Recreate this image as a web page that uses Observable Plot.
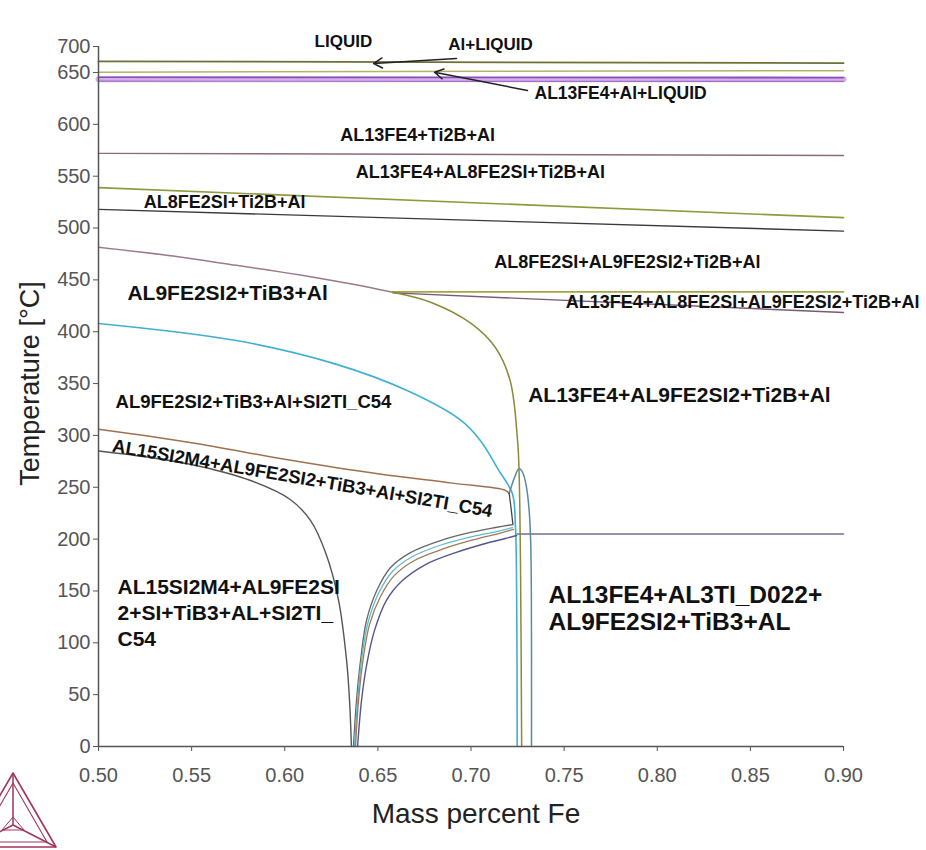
<!DOCTYPE html>
<html>
<head>
<meta charset="utf-8">
<script src="https://cdn.jsdelivr.net/npm/d3@7"></script>
<script src="https://cdn.jsdelivr.net/npm/@observablehq/plot@0.6"></script>
<style>
  body { margin: 0; background: #fff; }
  #wrap { position: relative; width: 926px; height: 850px; background: #fff; }
  #logo { position: absolute; left: 0; top: 770px; }
</style>
</head>
<body>
<div id="wrap">
  <div id="chart"></div>
  <svg id="logo" width="62" height="80" viewBox="0 0 62 80">
    <g fill="none" stroke="#a3355c" stroke-linejoin="round">
      <polygon points="13,3 56,77 -30,77" stroke-width="1.6"/>
      <polygon points="13,13 47,72 -21,72" stroke-width="1.1"/>
      <polyline points="13,3 13,55 56,77" stroke-width="1.5"/>
      <line x1="13" y1="55" x2="-30" y2="77" stroke-width="1.5"/>
      <polygon points="13,47 24,60 2,60" stroke-width="1"/>
    </g>
  </svg>
</div>
<script>
// ---------- axis ticks ----------
const xTicks = [0.50, 0.55, 0.60, 0.65, 0.70, 0.75, 0.80, 0.85, 0.90];
const yTicks = [0, 50, 100, 150, 200, 250, 300, 350, 400, 450, 500, 550, 600, 650, 700];

// ---------- phase boundaries: [mass percent Fe, temperature °C] ----------
const liquidus        = [[0.50, 671.5], [0.90, 668.0]];
const alLiquid        = [[0.50, 650.6], [0.90, 653.5]];
const al13fe4Band     = [[0.50, 643.6], [0.90, 643.4]];
const al13fe4Upper    = [[0.50, 645.4], [0.90, 645.0]];
const al13fe4Lower    = [[0.50, 641.6], [0.90, 641.4]];
const ti2bLine        = [[0.50, 572.0], [0.90, 570.0]];
const al8fe2siUpper   = [[0.50, 539.0], [0.90, 510.0]];
const al8fe2siLower   = [[0.50, 518.0], [0.90, 497.0]];
const al9fe2si2Start  = [[0.50, 481.5], [0.54, 473], [0.574, 464], [0.60, 457], [0.627, 449], [0.645, 443], [0.658, 438]];
const al9Plateau      = [[0.658, 438.5], [0.90, 438.5]];
const al13fe4Slope    = [[0.658, 437.5], [0.90, 418.5]];
const al13fe4Solvus   = [[0.658, 438], [0.679, 428], [0.700, 408], [0.713, 385], [0.721, 353], [0.725, 295], [0.7258, 266], [0.7266, 170], [0.7272, 0]];
const si2tiSolvus     = [[0.50, 408], [0.574, 391.5], [0.627, 369], [0.666, 343], [0.695, 314], [0.705, 295], [0.715, 266], [0.7222, 244], [0.7238, 215], [0.7245, 150], [0.7248, 0]];
const tib3Line        = [[0.50, 306], [0.55, 293], [0.60, 277], [0.65, 263], [0.69, 254], [0.7185, 247], [0.7205, 244]];
const al3tiLambda     = [[0.7205, 244], [0.7235, 260], [0.7258, 268], [0.7278, 264], [0.7298, 250], [0.7312, 228], [0.7320, 200], [0.7324, 150], [0.7325, 0]];
const junctionLine    = [[0.7205, 244], [0.7215, 230], [0.7225, 214]];
const al3tiPlateau    = [[0.7248, 205], [0.90, 205]];
const al15Solvus      = [[0.50, 285], [0.5279, 278.7], [0.5548, 270], [0.5816, 256.5], [0.6031, 238], [0.6138, 218], [0.6219, 187], [0.6289, 141], [0.6332, 83], [0.6348, 44], [0.6358, 0]];
const vRightGray      = [[0.6369, 0], [0.6385, 44], [0.6407, 83], [0.6439, 121.5], [0.6493, 150], [0.6568, 172.6], [0.6675, 187], [0.6836, 198.6], [0.6997, 206.4], [0.7132, 211.2], [0.7223, 214]];
const vRightCyan      = [[0.6374, 0], [0.6391, 44], [0.6412, 83], [0.6447, 119.6], [0.6503, 147.5], [0.6578, 168.8], [0.6686, 183.2], [0.6847, 194.8], [0.7008, 202.5], [0.7137, 207.3], [0.7223, 211]];
const vRightBrown     = [[0.6380, 0], [0.6396, 44], [0.6420, 83], [0.6455, 117.6], [0.6514, 144.6], [0.6589, 165], [0.6696, 179.4], [0.6858, 191], [0.7019, 199.6], [0.7148, 205.4], [0.7228, 209.3]];
const vRightBlue      = [[0.6391, 0], [0.6412, 44], [0.6439, 78], [0.6482, 112], [0.6546, 141], [0.6632, 160], [0.6756, 175.5], [0.6917, 187], [0.7078, 195.8], [0.7185, 200.6], [0.7245, 203.5]];

// ---------- region labels ----------
const labelText = [
  "LIQUID", "Al+LIQUID", "AL13FE4+Al+LIQUID", "AL13FE4+Ti2B+Al", "AL13FE4+AL8FE2SI+Ti2B+Al",
  "AL8FE2SI+Ti2B+Al", "AL8FE2SI+AL9FE2SI2+Ti2B+Al", "AL9FE2SI2+TiB3+Al",
  "AL13FE4+AL8FE2SI+AL9FE2SI2+Ti2B+Al", "AL9FE2SI2+TiB3+Al+SI2TI_C54", "AL13FE4+AL9FE2SI2+Ti2B+Al"
];
const labelX = [0.6315, 0.7105, 0.7803, 0.6713, 0.7051, 0.5677, 0.7840, 0.5693, 0.8458, 0.5832, 0.8119];
const labelT = [709.6, 703.8, 629.7, 589.2, 553.5, 524.6, 466.7, 436.8, 428.2, 331.7, 338.5];

const slopedLabel = "AL15SI2M4+AL9FE2SI2+TiB3+Al+SI2TI_C54";
const slopedLabelPos = [0.6095, 258.4];
const leftBlock = "AL15SI2M4+AL9FE2SI\n2+SI+TiB3+AL+SI2TI_\nC54";
const leftBlockPos = [0.5102, 130.2];
const rightBlock = "AL13FE4+AL3TI_D022+\nAL9FE2SI2+TiB3+AL";
const rightBlockPos = [0.7416, 134.0];

// arrows: [x1, T1, x2, T2]
const arrowPts = [[0.6922, 676.9, 0.6477, 667.3], [0.7303, 632.6, 0.6804, 650.6]];

// ---------- styles ----------
const lineSeries = [
  {data: liquidus, stroke: "#6f6f36", w: 1.8, curve: "linear"},
  {data: alLiquid, stroke: "#b3b36a", w: 1.5, curve: "linear"},
  {data: al13fe4Band, stroke: "#d2b2ea", w: 6, curve: "linear"},
  {data: al13fe4Upper, stroke: "#8e4cb8", w: 1.6, curve: "linear"},
  {data: al13fe4Lower, stroke: "#a070c8", w: 1.2, curve: "linear"},
  {data: ti2bLine, stroke: "#8a6a80", w: 1.4, curve: "linear"},
  {data: al8fe2siUpper, stroke: "#8f9a3c", w: 1.6, curve: "linear"},
  {data: al8fe2siLower, stroke: "#3a3a3a", w: 1.4, curve: "linear"},
  {data: al9fe2si2Start, stroke: "#9a7a8c", w: 1.5, curve: "catmull-rom"},
  {data: al9Plateau, stroke: "#a5a544", w: 1.8, curve: "linear"},
  {data: al13fe4Slope, stroke: "#7a5a74", w: 1.4, curve: "linear"},
  {data: al13fe4Solvus, stroke: "#8a8a3a", w: 1.5, curve: "catmull-rom"},
  {data: si2tiSolvus, stroke: "#3fb0d2", w: 1.6, curve: "catmull-rom"},
  {data: tib3Line, stroke: "#a0704e", w: 1.5, curve: "catmull-rom"},
  {data: al3tiLambda, stroke: "#5a8aa2", w: 1.5, curve: "catmull-rom"},
  {data: junctionLine, stroke: "#444", w: 1.3, curve: "catmull-rom"},
  {data: al3tiPlateau, stroke: "#6e7391", w: 1.6, curve: "linear"},
  {data: al15Solvus, stroke: "#555", w: 1.4, curve: "catmull-rom"},
  {data: vRightGray, stroke: "#666", w: 1.3, curve: "catmull-rom"},
  {data: vRightCyan, stroke: "#5fbcd0", w: 1.3, curve: "catmull-rom"},
  {data: vRightBrown, stroke: "#a07a58", w: 1.3, curve: "catmull-rom"},
  {data: vRightBlue, stroke: "#55558f", w: 1.4, curve: "catmull-rom"}
];
const labelSize = [17, 17, 17.5, 18, 18, 18, 18, 21, 18, 18.5, 21];

// The reference axis is compressed above 650 °C (650→700 spans half the usual height);
// reproduce that with a scale transform.
const squeeze = 0.5014;
const tY = v => v <= 650 ? v : 650 + (v - 650) * squeeze;
const tYinv = v => v <= 650 ? v : 650 + (v - 650) / squeeze;

const lineMarks = lineSeries.map(s =>
  Plot.line(s.data.map(([x, t]) => ({x, t})), {x: "x", y: "t", stroke: s.stroke, strokeWidth: s.w, curve: s.curve})
);

const labels = labelText.map((text, i) => ({text, x: labelX[i], t: labelT[i], size: labelSize[i]}));
const labelMarks = labels.map(d =>
  Plot.text([d], {x: "x", y: "t", text: "text", fontSize: d.size, fontWeight: "bold", fill: "#111"})
);

const chart = Plot.plot({
  width: 926,
  height: 850,
  marginLeft: 98,
  marginRight: 83,
  marginTop: 46,
  marginBottom: 104,
  style: {fontFamily: "'Liberation Sans', Arial, sans-serif", fontSize: "20px", color: "#555", background: "#fff", overflow: "visible"},
  x: {domain: [0.5, 0.9], ticks: xTicks, tickFormat: d3.format(".2f"), tickSize: 5, tickPadding: 16, label: null},
  y: {domain: [0, tY(700)], transform: tY, ticks: yTicks.map(tY), tickFormat: v => String(Math.round(tYinv(v))), tickSize: 5, tickPadding: 3, label: null},
  marks: [
    ...lineMarks,
    Plot.ruleX([0.5], {stroke: "#555", strokeWidth: 1.5}),
    Plot.ruleY([0], {stroke: "#555", strokeWidth: 1.5}),
    Plot.arrow(arrowPts.map(([x1, t1, x2, t2]) => ({x1, t1, x2, t2})), {x1: "x1", y1: "t1", x2: "x2", y2: "t2", stroke: "#222", strokeWidth: 1.5, headLength: 10}),
    ...labelMarks,
    Plot.text([{text: slopedLabel, x: slopedLabelPos[0], t: slopedLabelPos[1]}], {x: "x", y: "t", text: "text", rotate: 9.8, fontSize: 18.5, fontWeight: "bold", fill: "#111"}),
    Plot.text([{text: leftBlock, x: leftBlockPos[0], t: leftBlockPos[1]}], {x: "x", y: "t", text: "text", textAnchor: "start", lineHeight: 1.26, fontSize: 21, fontWeight: "bold", fill: "#111"}),
    Plot.text([{text: rightBlock, x: rightBlockPos[0], t: rightBlockPos[1]}], {x: "x", y: "t", text: "text", textAnchor: "start", lineHeight: 1.14, fontSize: 24.5, fontWeight: "bold", fill: "#111"}),
    Plot.text(["Temperature [°C]"], {frameAnchor: "left", textAnchor: "middle", dx: -68, dy: -13, rotate: -90, fontSize: 27, fill: "#222"}),
    Plot.text(["Mass percent Fe"], {frameAnchor: "bottom", dx: 5, dy: 76, fontSize: 28, fill: "#222"})
  ]
});
document.getElementById("chart").appendChild(chart);
</script>
</body>
</html>
